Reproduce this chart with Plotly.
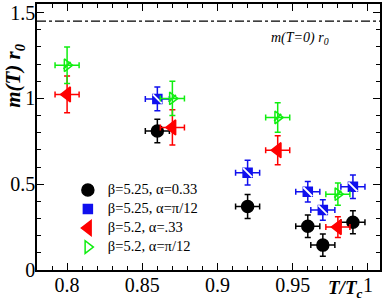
import plotly.graph_objects as go

# Data
black_x = [0.86, 0.92, 0.96, 0.97, 0.99]
black_y = [0.81, 0.37, 0.255, 0.145, 0.278]
black_ey = [0.068, 0.07, 0.065, 0.065, 0.067]

blue_x = [0.86, 0.92, 0.96, 0.97, 0.99]
blue_y = [0.997, 0.567, 0.456, 0.35, 0.485]
blue_ey = [0.069, 0.072, 0.06, 0.06, 0.069]

red_x = [0.80, 0.87, 0.94, 0.98]
red_y = [1.023, 0.831, 0.698, 0.25]
red_ey = [0.107, 0.103, 0.084, 0.06]

green_x = [0.80, 0.87, 0.94, 0.98]
green_y = [1.193, 1.0, 0.889, 0.442]
green_ey = [0.106, 0.10, 0.086, 0.065]

x_err = 0.008
m0_value = 1.45

labels = ["β=5.25, α=0.33", "β=5.25, α=π/12", "β=5.2, α=.33", "β=5.2, α=π/12"]

FONT = "Liberation Serif, Times New Roman, serif"

fig = go.Figure()

def add_series(xs, ys, eys, color, symbol, size, name, overlay=None):
    fig.add_trace(go.Scatter(
        x=xs, y=ys, mode="markers",
        name="<span style='font-size:14.5px'>" + name + "</span>",
        marker=dict(symbol=symbol, size=size, color=color,
                    line=dict(color=color, width=1.5)),
        error_x=dict(type="constant", value=x_err, color=color, thickness=1.5, width=3),
        error_y=dict(type="data", array=eys, color=color, thickness=1.5, width=3),
    ))
    if overlay:
        fig.add_trace(go.Scatter(
            x=xs, y=ys, mode="markers", showlegend=False, hoverinfo="skip",
            marker=dict(symbol=overlay[2], size=overlay[1],
                        line=dict(color=overlay[0], width=1.8)),
        ))

add_series(black_x, black_y, black_ey, "black", "circle", 12, labels[0])
add_series(blue_x, blue_y, blue_ey, "#1010ee", "square", 9, labels[1], overlay=("white", 9, "line-nw"))
add_series(red_x, red_y, red_ey, "#ff0000", "triangle-left", 13, labels[2])
add_series(green_x, green_y, green_ey, "#10ee10", "triangle-right-open", 11, labels[3], overlay=("#10ee10", 7, "line-ne"))

fig.add_shape(type="line", xref="paper", x0=0, x1=1, yref="y", y0=m0_value, y1=m0_value,
              line=dict(color="black", width=1.2, dash="dashdot"))

fig.add_annotation(x=0.955, y=1.35, xref="x", yref="y", showarrow=False,
                   xanchor="center", yanchor="middle",
                   text="<i>m(T=0) r<sub>0</sub></i>",
                   font=dict(family=FONT, size=14, color="black"))
fig.add_annotation(x=-0.067, y=0.73, xref="paper", yref="paper", showarrow=False,
                   xanchor="center", yanchor="middle",
                   textangle=-90, text="<b><i>m(T) r<sub>0</sub></i></b>",
                   font=dict(family=FONT, size=21, color="black"))
fig.add_annotation(x=0.9, y=-0.07, xref="paper", yref="paper", showarrow=False,
                   xanchor="center", yanchor="middle",
                   text="<b><i>T/T<sub>c</sub></i></b>",
                   font=dict(family=FONT, size=19, color="black"))

axis_common = dict(showline=True, linecolor="black", linewidth=1.5, mirror="ticks",
                   ticks="inside", ticklen=7, tickwidth=1.2, tickcolor="black",
                   showgrid=False, zeroline=False, ticklabelstandoff=-4,
                   tickfont=dict(family=FONT, size=20, color="black"))

fig.update_xaxes(range=[0.78, 1.008], tickvals=[0.8, 0.85, 0.9, 0.95, 1],
                 ticktext=["0.8", "0.85", "0.9", "0.95", "1"],
                 minor=dict(dtick=0.01, tick0=0.8, ticks="inside", ticklen=4, tickcolor="black"),
                 **axis_common)
fig.update_yaxes(range=[0, 1.55], tickvals=[0, 0.5, 1, 1.5],
                 ticktext=["0", "0.5", "1", "1.5"],
                 minor=dict(dtick=0.1, tick0=0, ticks="inside", ticklen=4, tickcolor="black"),
                 **axis_common)

fig.update_layout(
    width=386, height=302,
    margin=dict(l=37, r=6, t=2, b=32),
    paper_bgcolor="white", plot_bgcolor="white",
    showlegend=True,
    legend=dict(x=0.09, y=0.355, xanchor="left", yanchor="top",
                bgcolor="rgba(0,0,0,0)", tracegroupgap=0, itemwidth=30,
                font=dict(family=FONT, size=11, color="black")),
)

fig.write_html("out.html", config={"displayModeBar": False},
               post_script="document.body.style.margin='0px';")
